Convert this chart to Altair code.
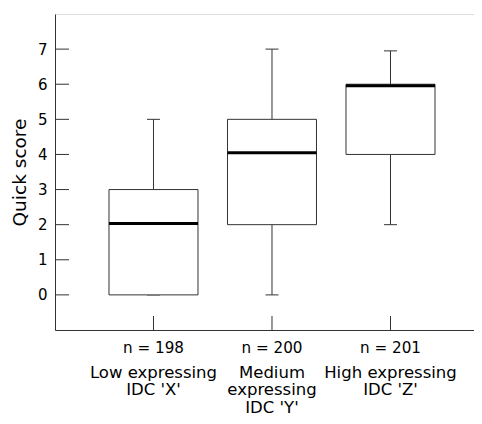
import altair as alt
import pandas as pd

# ---- data ----
categories = ["Low", "Medium", "High"]
n_labels = ["n = 198", "n = 200", "n = 201"]
cat_labels = ["Low expressing\nIDC 'X'", "Medium\nexpressing\nIDC 'Y'", "High expressing\nIDC 'Z'"]
whisker_lo = [0, 0, 2]
q1 = [0, 2, 4]
median = [2.03, 4.05, 5.96]
q3 = [3, 5, 6]
whisker_hi = [5, 7, 6.95]
y_ticks = [0, 1, 2, 3, 4, 5, 6, 7]

df = pd.DataFrame({
    "cat": categories, "n": n_labels, "label": cat_labels,
    "lo": whisker_lo, "q1": q1, "med": median, "q3": q3, "hi": whisker_hi,
})
ticks_df = pd.DataFrame({"t": y_ticks})

W, H = 419, 316
FONT = "DejaVu Sans"
INK = "#333333"

xscale = alt.Scale(domain=categories, paddingInner=0, paddingOuter=0.268, align=0.618, round=False)
yscale = alt.Scale(domain=[-1, 8], nice=False, zero=False)

x_enc = alt.X("cat:N", scale=xscale, sort=categories, title=None,
              axis=alt.Axis(labels=False, ticks=False, title=None))
y_first = alt.Y("lo:Q", scale=yscale, title="Quick score",
                axis=alt.Axis(values=y_ticks, title="Quick score"))

base = alt.Chart(df)

whisker = base.mark_rule(color=INK, strokeWidth=1).encode(
    x=x_enc, y=y_first, y2="hi:Q")
cap_hi = base.mark_tick(orient="horizontal", size=13, thickness=1, color=INK, opacity=1).encode(
    x=x_enc, y=alt.Y("hi:Q", scale=yscale))
cap_lo = base.mark_tick(orient="horizontal", size=13, thickness=1, color=INK, opacity=1).encode(
    x=x_enc, y=alt.Y("lo:Q", scale=yscale))
box = base.mark_bar(size=89, fill="white", stroke=INK, strokeWidth=1, opacity=1).encode(
    x=x_enc, y=alt.Y("q1:Q", scale=yscale), y2="q3:Q")
med = base.mark_tick(orient="horizontal", size=89, thickness=3, color="black", opacity=1).encode(
    x=x_enc, y=alt.Y("med:Q", scale=yscale))

y_in_ticks = alt.Chart(ticks_df).mark_rule(color=INK, strokeWidth=1).encode(
    x=alt.value(0), x2=alt.value(14), y=alt.Y("t:Q", scale=yscale))
x_in_ticks = base.mark_rule(color=INK, strokeWidth=1).encode(
    x=x_enc, y=alt.value(H - 14), y2=alt.value(H))

n_text = base.mark_text(fontSize=15.2, font=FONT, baseline="alphabetic", align="center", color="black").encode(
    x=x_enc, y=alt.value(H + 22.7), text="n:N")
cat_text = base.mark_text(fontSize=16.5, font=FONT, baseline="alphabetic", align="center", color="black",
                          lineBreak="\n", lineHeight=17.5).encode(
    x=x_enc, y=alt.value(H + 47.5), text="label:N")

chart = alt.layer(whisker, cap_hi, cap_lo, box, med, y_in_ticks, x_in_ticks, n_text, cat_text).properties(
    width=W, height=H,
    autosize=alt.AutoSizeParams(type="none"),
    padding={"left": 47, "top": 6, "right": 0, "bottom": 86},
).configure_view(stroke=None).configure(background="white").configure_axis(
    grid=False, domainColor=INK, domainWidth=1, labelColor="black", titleColor="black",
    labelFont=FONT, titleFont=FONT,
).configure_axisY(
    tickSize=0, labelPadding=8, labelFontSize=15, titleFontSize=18.5,
    titleFontWeight="normal", titlePadding=8,
)

chart.save("out.html", embed_options={"renderer": "svg", "actions": False})
